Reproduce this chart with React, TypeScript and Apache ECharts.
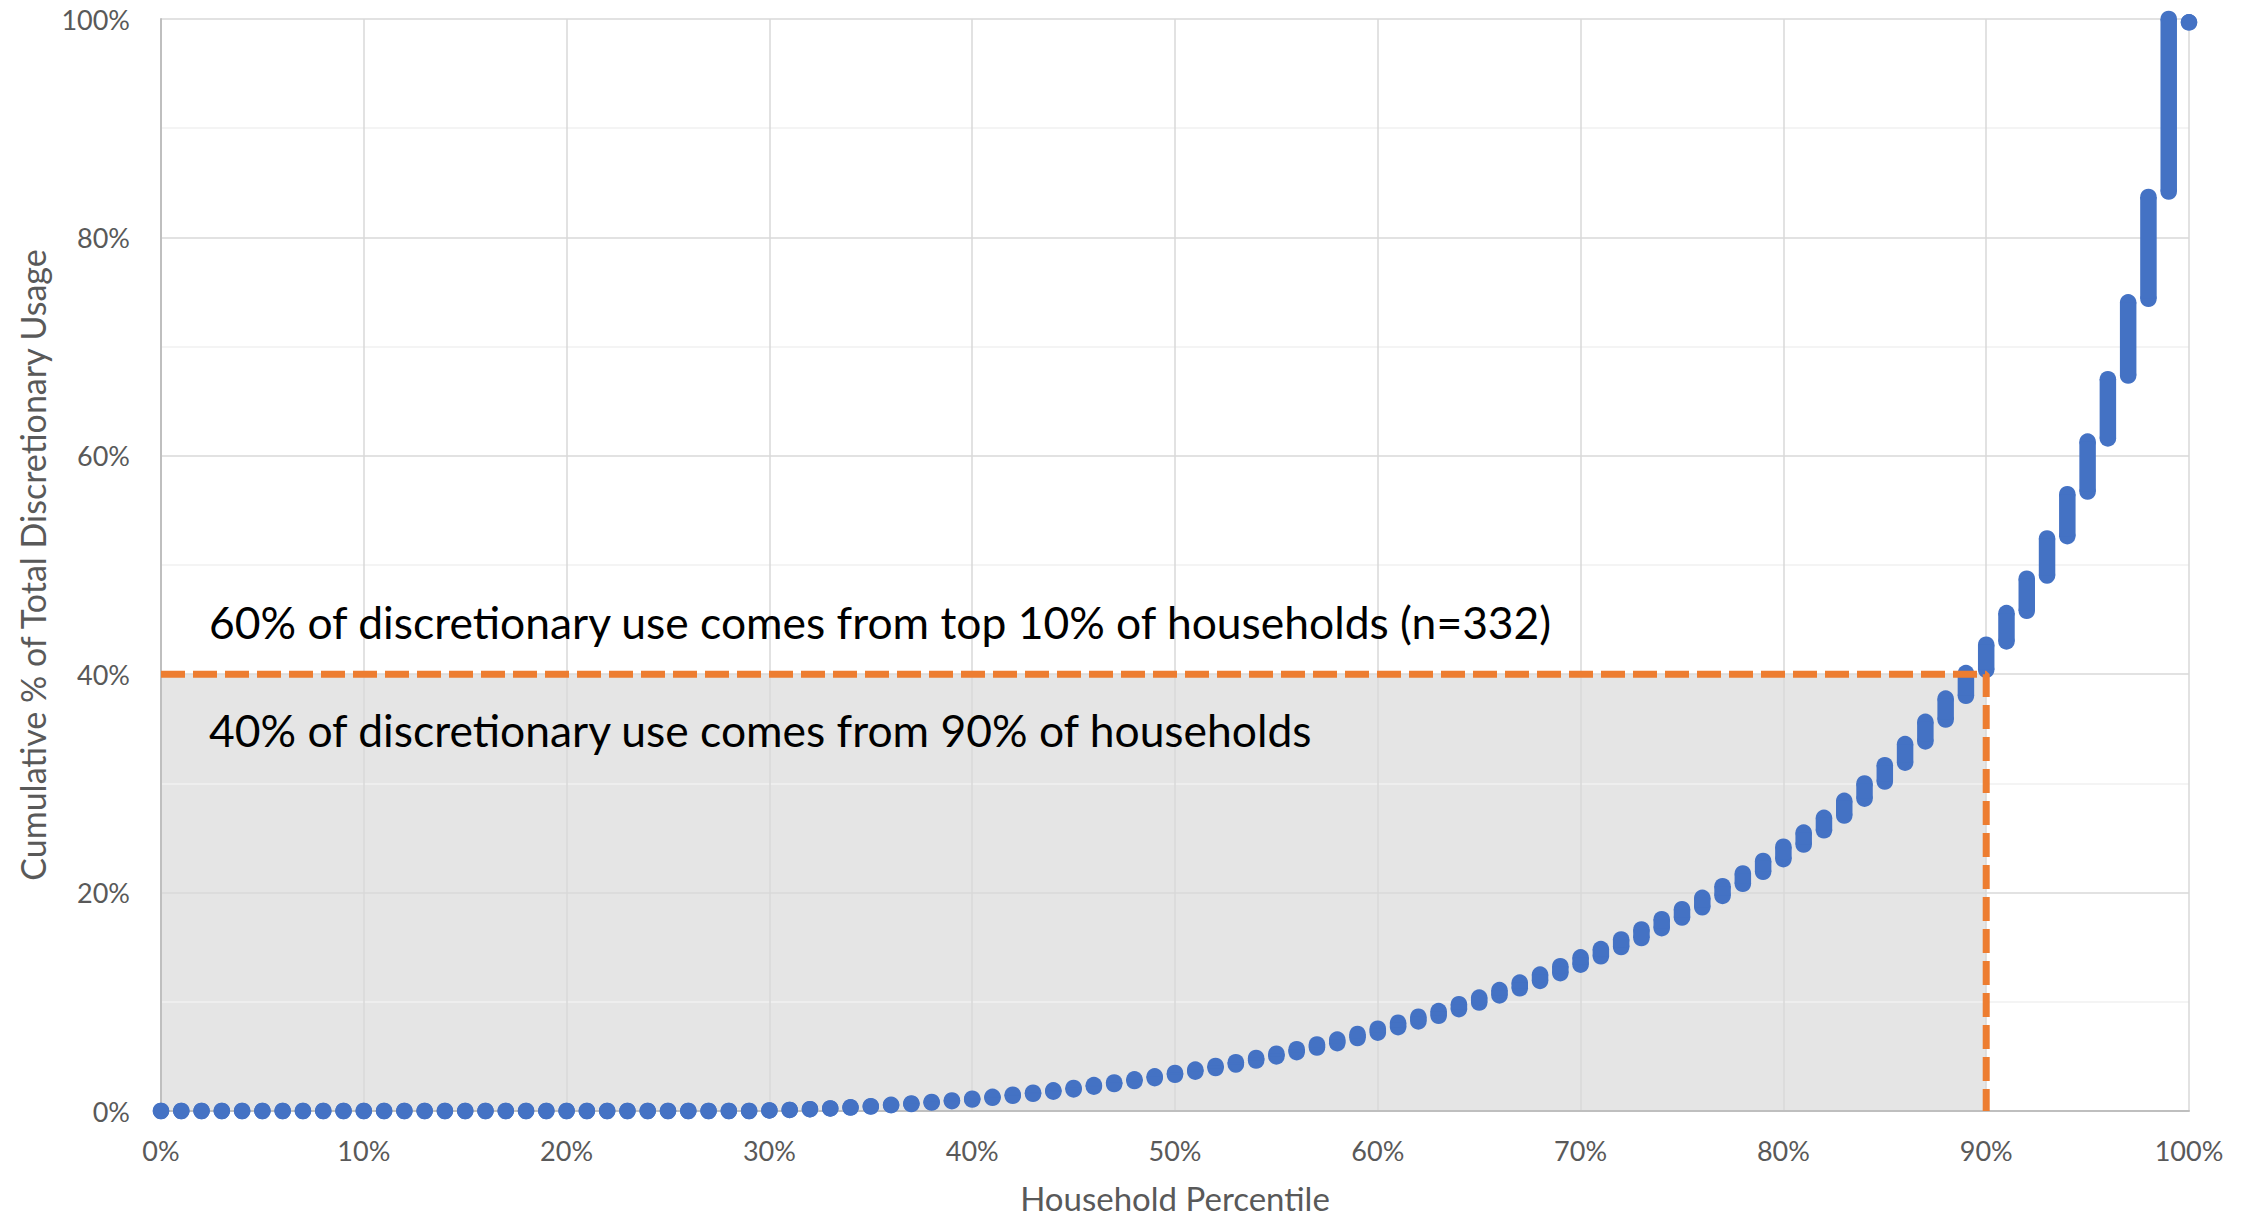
import React, { useEffect, useRef } from "react";
import * as echarts from "echarts";

// Household percentile (x, in %)
const percentiles = [
  0, 1, 2, 3, 4, 5, 6, 7, 8, 9,
  10, 11, 12, 13, 14, 15, 16, 17, 18, 19,
  20, 21, 22, 23, 24, 25, 26, 27, 28, 29,
  30, 31, 32, 33, 34, 35, 36, 37, 38, 39,
  40, 41, 42, 43, 44, 45, 46, 47, 48, 49,
  50, 51, 52, 53, 54, 55, 56, 57, 58, 59,
  60, 61, 62, 63, 64, 65, 66, 67, 68, 69,
  70, 71, 72, 73, 74, 75, 76, 77, 78, 79,
  80, 81, 82, 83, 84, 85, 86, 87, 88, 89,
  90, 91, 92, 93, 94, 95, 96, 97, 98, 99,
  100,
];

// Lowest cumulative % of households within each percentile
const lowValues = [
  0, 0, 0, 0, 0, 0, 0, 0, 0, 0,
  0, 0, 0, 0, 0, 0, 0, 0, 0, 0,
  0, 0, 0, 0, 0, 0, 0, 0, 0, 0,
  0.05, 0.1, 0.17, 0.24, 0.32, 0.41, 0.53, 0.64, 0.77, 0.9,
  1.05, 1.21, 1.39, 1.57, 1.77, 1.98, 2.23, 2.47, 2.74, 3.01,
  3.31, 3.6, 3.93, 4.26, 4.62, 5.0, 5.39, 5.81, 6.21, 6.68,
  7.17, 7.68, 8.2, 8.72, 9.32, 9.93, 10.58, 11.24, 11.91, 12.62,
  13.4, 14.16, 15.01, 15.84, 16.74, 17.72, 18.66, 19.7, 20.8, 21.9,
  23.06, 24.4, 25.7, 27.06, 28.6, 30.17, 31.9, 33.84, 35.85, 38.02,
  40.4, 43.0, 45.8, 49.04, 52.64, 56.72, 61.59, 67.35, 74.38, 84.2,
  99.7,
];

// Highest cumulative % of households within each percentile
const highValues = [
  0, 0, 0, 0, 0, 0, 0, 0, 0, 0,
  0, 0, 0, 0, 0, 0, 0, 0, 0, 0,
  0, 0, 0, 0, 0, 0, 0, 0, 0, 0,
  0.05, 0.1, 0.17, 0.24, 0.34, 0.44, 0.57, 0.69, 0.83, 0.97,
  1.13, 1.3, 1.49, 1.68, 1.89, 2.11, 2.37, 2.62, 2.9, 3.18,
  3.49, 3.79, 4.13, 4.47, 4.86, 5.25, 5.66, 6.09, 6.54, 7.05,
  7.54, 8.08, 8.63, 9.15, 9.78, 10.39, 11.07, 11.76, 12.49, 13.26,
  14.07, 14.83, 15.71, 16.63, 17.56, 18.48, 19.52, 20.59, 21.75, 22.9,
  24.2, 25.5, 26.85, 28.4, 30.0, 31.67, 33.6, 35.64, 37.77, 40.1,
  42.7, 45.6, 48.75, 52.43, 56.48, 61.3, 67.02, 74.05, 83.7, 100,
  99.7,
];

// Threshold lines (x %, y %)
const thresholdX = 90;
const thresholdY = 40;

const xTicks = [0, 10, 20, 30, 40, 50, 60, 70, 80, 90, 100];

const annotationTop = "60% of discretionary use comes from top 10% of households (n=332)";
const annotationBottom = "40% of discretionary use comes from 90% of households";
const xTitle = "Household Percentile";
const yTitle = "Cumulative % of Total Discretionary Usage";

const FONT = "Lato, 'Open Sans', sans-serif";
const BLUE = "#4472C4";
const ORANGE = "#ED7D31";

export default function App() {
  const ref = useRef<HTMLDivElement>(null);

  useEffect(() => {
    if (!ref.current) return;
    const chart = echarts.init(ref.current, undefined, { renderer: "svg" });
    const R = 8.25;

    const householdData = percentiles.map((p, i) => [p, lowValues[i], highValues[i]]);

    const option: any = {
      animation: false,
      backgroundColor: "#ffffff",
      grid: { left: 161, right: 67, top: 19, bottom: 110, containLabel: false },
      xAxis: {
        type: "value",
        min: xTicks[0],
        max: xTicks[xTicks.length - 1],
        interval: 10,
        axisLine: { show: true, onZero: false, lineStyle: { color: "#BFBFBF", width: 2 } },
        axisTick: { show: false },
        axisLabel: {
          formatter: "{value}%",
          color: "#595959",
          fontFamily: FONT,
          fontSize: 27,
          margin: 26,
        },
        splitLine: { show: true, lineStyle: { color: "#D9D9D9", width: 1.5 } },
      },
      yAxis: {
        type: "value",
        min: 0,
        max: 100,
        interval: 20,
        axisLine: { show: true, onZero: false, lineStyle: { color: "#BFBFBF", width: 2 } },
        axisTick: { show: false },
        minorTick: { show: false, splitNumber: 2 },
        minorSplitLine: { show: true, lineStyle: { color: "#F0F0F0", width: 1.5 } },
        axisLabel: {
          formatter: "{value}%",
          color: "#595959",
          fontFamily: FONT,
          fontSize: 27,
          margin: 31,
        },
        splitLine: { show: true, lineStyle: { color: "#D9D9D9", width: 1.5 } },
      },
      series: [
        {
          type: "custom",
          name: "shade",
          z: -1,
          silent: true,
          clip: false,
          encode: { x: [0, 2], y: [1, 3] },
          data: [[0, thresholdY, thresholdX, 0]],
          renderItem: (params: any, api: any) => {
            const p1 = api.coord([api.value(0), api.value(1)]);
            const p2 = api.coord([api.value(2), api.value(3)]);
            return {
              type: "rect",
              shape: { x: p1[0], y: p1[1], width: p2[0] - p1[0], height: p2[1] - p1[1] },
              style: { fill: "#E5E5E5" },
            };
          },
        },
        {
          type: "custom",
          name: "households",
          z: 3,
          silent: true,
          clip: false,
          encode: { x: 0, y: [1, 2] },
          data: householdData,
          renderItem: (params: any, api: any) => {
            const lo = api.coord([api.value(0), api.value(1)]);
            const hi = api.coord([api.value(0), api.value(2)]);
            const children: any[] = [
              { type: "circle", shape: { cx: lo[0], cy: lo[1], r: R }, style: { fill: BLUE } },
              { type: "circle", shape: { cx: hi[0], cy: hi[1], r: R }, style: { fill: BLUE } },
            ];
            if (lo[1] - hi[1] > 0.5) {
              children.push({
                type: "rect",
                shape: { x: lo[0] - R, y: hi[1], width: 2 * R, height: lo[1] - hi[1] },
                style: { fill: BLUE },
              });
            }
            return { type: "group", children };
          },
        },
        {
          type: "line",
          name: "threshold",
          z: 5,
          silent: true,
          symbol: "none",
          data: [
            [0, thresholdY],
            [thresholdX, thresholdY],
            [thresholdX, 0],
          ],
          lineStyle: { color: ORANGE, width: 7, type: [24, 8] },
        },
      ],
      graphic: [
        {
          type: "text",
          x: 209,
          y: 621,
          style: {
            text: annotationTop,
            fontFamily: FONT,
            fontSize: 44.4,
            fill: "#000000",
            verticalAlign: "middle",
            align: "left",
          },
          z: 10,
        },
        {
          type: "text",
          x: 209,
          y: 729,
          style: {
            text: annotationBottom,
            fontFamily: FONT,
            fontSize: 44.4,
            fill: "#000000",
            verticalAlign: "middle",
            align: "left",
          },
          z: 10,
        },
        {
          type: "text",
          x: 1175,
          y: 1198,
          style: {
            text: xTitle,
            fontFamily: FONT,
            fontSize: 33,
            fill: "#595959",
            verticalAlign: "middle",
            align: "center",
          },
        },
        {
          type: "text",
          x: 32,
          y: 565,
          rotation: Math.PI / 2,
          style: {
            text: yTitle,
            fontFamily: FONT,
            fontSize: 34,
            fill: "#595959",
            verticalAlign: "middle",
            align: "center",
          },
        },
      ],
    };

    chart.setOption(option);
    return () => chart.dispose();
  }, []);

  return (
    <div
      ref={ref}
      style={{ position: "fixed", left: 0, top: 0, width: 2256, height: 1221, background: "#fff" }}
    />
  );
}
